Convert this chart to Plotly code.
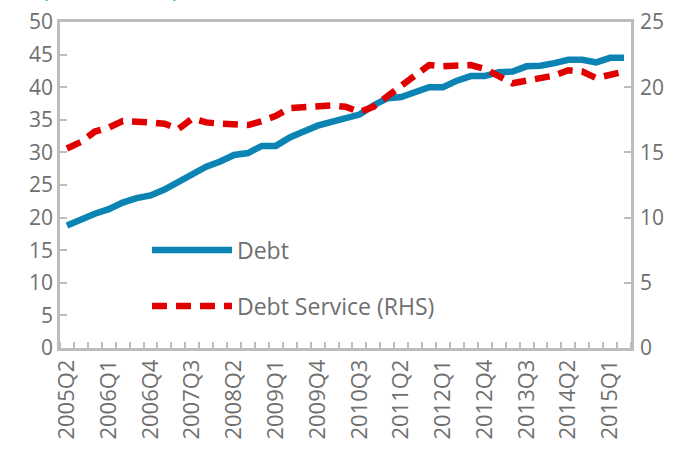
import plotly.graph_objects as go

quarters = []
for yr in range(2005, 2016):
    for q in range(1, 5):
        lab = f"{yr}Q{q}"
        if "2005Q2" <= lab <= "2015Q2":
            quarters.append(lab)

debt = [18.8, 19.8, 20.6, 21.3, 22.3, 23.0, 23.4, 24.3, 25.4, 26.7,
        27.8, 28.6, 29.6, 29.9, 31.0, 31.0, 32.3, 33.2, 34.1, 34.7,
        35.2, 35.8, 37.2, 38.3, 38.5, 39.3, 40.0, 40.0, 41.0, 41.7,
        41.7, 42.3, 42.4, 43.2, 43.3, 43.7, 44.2, 44.2, 43.8, 44.5, 44.5]

debt_service = [15.3, 15.8, 16.6, 16.9, 17.4, 17.4, 17.3, 17.2, 16.8, 17.6,
                17.3, 17.2, 17.2, 17.1, 17.4, 17.8, 18.4, 18.5, 18.6, 18.6,
                18.5, 18.1, 18.5, 19.3, 20.1, 20.9, 21.7, 21.6, 21.7, 21.7,
                21.4, 20.9, 20.3, 20.5, 20.7, 20.9, 21.3, 21.2, 20.7, 21.0, 21.2]

left_ticks = list(range(0, 51, 5))
right_ticks = list(range(0, 26, 5))
title_text = "(In percent of disposable income)"

xs = list(range(len(quarters)))
label_idx = xs[::3]
label_txt = [quarters[i] for i in label_idx]

FONT = "Open Sans"
GREY = "#6f6f6f"
AXIS = "#bdbdbd"
BLUE = "#0b84b4"
RED = "#e10000"

fig = go.Figure()
fig.add_trace(go.Scatter(x=xs, y=debt, mode="lines", name="Debt", showlegend=True,
                         line=dict(color=BLUE, width=6.5), legend="legend"))
fig.add_trace(go.Scatter(x=xs, y=debt_service, mode="lines", name="Debt Service (RHS)",
                         showlegend=True,
                         line=dict(color=RED, width=6.5, dash="15px,9px"),
                         yaxis="y2", legend="legend2"))

fig.update_layout(
    width=686, height=449,
    showlegend=True,
    margin=dict(l=60, r=55, t=22, b=101, autoexpand=False),
    paper_bgcolor="white", plot_bgcolor="white",
    font=dict(family=FONT, size=20, color=GREY),
    xaxis=dict(range=[-0.5, len(quarters) - 0.5], tickmode="array",
               tickvals=label_idx, ticktext=label_txt, tickangle=-90,
               ticks="", showgrid=False, zeroline=False, automargin=False,
               showline=True, linecolor=AXIS, linewidth=2.5, mirror=True,
               tickfont=dict(family=FONT, size=22, color=GREY),
               minor=dict(tickmode="linear", tick0=-0.5, dtick=1, ticks="inside",
                          ticklen=6, tickcolor=AXIS, tickwidth=1.5, showgrid=False)),
    yaxis=dict(range=[0, 50], tickmode="array", tickvals=left_ticks,
               ticks="inside", ticklen=7, tickcolor=AXIS, tickwidth=1.5,
               showgrid=False, zeroline=False, showline=True, linecolor=AXIS,
               linewidth=2.5, automargin=False,
               tickfont=dict(family=FONT, size=21, color=GREY)),
    yaxis2=dict(range=[0, 25], tickmode="array", tickvals=right_ticks,
                overlaying="y", side="right",
                ticks="inside", ticklen=7, tickcolor=AXIS, tickwidth=1.5,
                showgrid=False, zeroline=False, showline=True, linecolor=AXIS,
                linewidth=2.5, ticklabelstandoff=2, automargin=False,
                tickfont=dict(family=FONT, size=21, color=GREY)),
    legend=dict(x=(147 - 60) / 571, y=(348 - 250) / 326, xanchor="left", yanchor="middle",
                bgcolor="rgba(0,0,0,0)", itemwidth=80,
                font=dict(family=FONT, size=23, color=GREY)),
    legend2=dict(x=(147 - 60) / 571, y=(348 - 306) / 326, xanchor="left", yanchor="middle",
                 bgcolor="rgba(0,0,0,0)", itemwidth=80,
                 font=dict(family=FONT, size=23, color=GREY)),
    annotations=[dict(text=title_text, xref="paper", yref="paper",
                      x=(13 - 60) / 571, y=1, xanchor="left", yanchor="bottom",
                      yshift=18, showarrow=False,
                      font=dict(family=FONT, size=20, color="#1f95d0"))],
)

fig.write_html("out.html", config={"displayModeBar": False},
               post_script="document.body.style.margin='0';document.body.style.overflow='hidden';")
